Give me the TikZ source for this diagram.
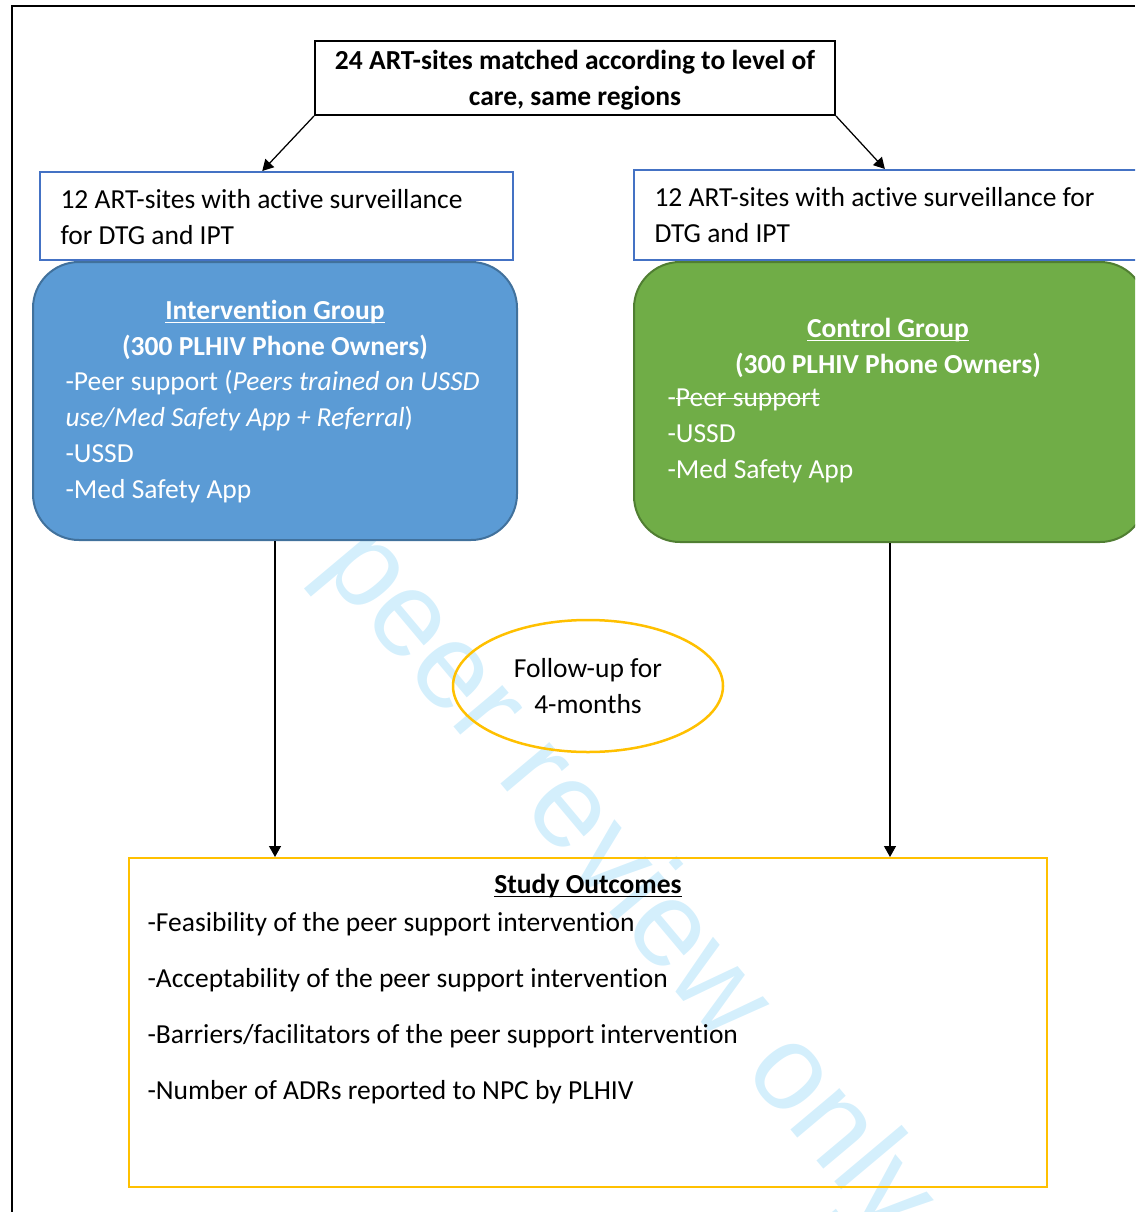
\documentclass[tikz,border=0pt]{standalone}
\usepackage{fontspec}
\setmainfont{Carlito}[Ligatures=NoCommon]
\newfontfamily\wmfont{Liberation Sans}
\usetikzlibrary{arrows.meta, shapes.geometric, fit, calc}

\newsavebox\markbox
\newcommand\strikeout[1]{\sbox\markbox{#1}\rlap{\rule[0.27em]{\wd\markbox}{0.5pt}}\usebox\markbox}
\newcommand\underlined[1]{\sbox\markbox{#1}\rlap{\rule[-0.14em]{\wd\markbox}{0.6pt}}\usebox\markbox}

\definecolor{siteblue}{HTML}{4472C4}
\definecolor{intfill}{HTML}{5B9BD5}
\definecolor{intline}{HTML}{41719C}
\definecolor{ctlfill}{HTML}{70AD47}
\definecolor{ctlline}{HTML}{507E32}
\definecolor{gold}{HTML}{FFC000}
\definecolor{wmcyan}{RGB}{212,239,252}

\begin{document}
\begin{tikzpicture}[x=0.4pt, y=-0.4pt,
  txt/.style={font=\fontsize{11}{14.4}\selectfont, inner sep=0pt, align=left},
  ctxt/.style={txt, align=center},
  boldtxt/.style={font=\bfseries\fontsize{11}{14.4}\selectfont},
  sitebox/.style={draw=siteblue, line width=0.8pt, inner sep=0pt},
  groupbox/.style={rounded corners=18.4pt, line width=0.8pt, inner sep=0pt},
  goldline/.style={draw=gold, line width=0.8pt},
  arr/.style={-{Triangle[length=4.4pt, width=4.8pt]}, line width=0.5pt}]
\clip (0,0) rectangle (1135,1212);
\node[rotate=-50, text=wmcyan, inner sep=0pt, font=\wmfont\fontsize{48.5}{50}\selectfont] (wmark) at (626,884) {peer review only};
\draw[line width=0.8pt] (12,1212) -- (12,6) -- (1135,6);

\node[draw, line width=0.8pt, inner sep=0pt, fit={(315,41) (835,115)}] (sites24) {};
\node[ctxt, boldtxt] (sites24text) at (575,80) {24 ART-sites matched according to level of\\care, same regions};

\node[sitebox, fit={(40,172) (513,260)}] (sitesL) {};
\node[txt, anchor=west] (sitesLtext) at (60,217) {12 ART-sites with active surveillance\\for DTG and IPT};
\node[sitebox, fit={(634,170) (1146,260)}] (sitesR) {};
\node[txt, anchor=west] (sitesRtext) at (654,215) {12 ART-sites with active surveillance for\\DTG and IPT};

\node[groupbox, fill=intfill, draw=intline, fit={(33,262) (517,540)}] (interv) {};
\node[ctxt, boldtxt, text=white] (intervhead) at (275,330) {\underlined{Intervention Group}\\(300 PLHIV Phone Owners)};
\node[txt, text=white, anchor=west] (intervlist) at (65,437) {-Peer support (\textit{Peers trained on USSD}\\\textit{use/Med Safety App + Referral})\\-USSD\\-Med Safety App};

\node[groupbox, fill=ctlfill, draw=ctlline, fit={(634,262) (1146,542)}] (ctrl) {};
\node[ctxt, boldtxt, text=white] (ctrlhead) at (888,348) {\underlined{Control Group}\\(300 PLHIV Phone Owners)};
\node[txt, text=white, anchor=west] (ctrllist) at (667,436) {-\strikeout{Peer support}\\-USSD\\-Med Safety App};

\node[ellipse, goldline, line width=1pt, ctxt, minimum width=108pt, minimum height=52.8pt] (followup) at (588,686) {Follow-up for\\4-months};

\node[goldline, inner sep=0pt, fit={(129,858) (1047,1187)}] (outc) {};
\node[ctxt, boldtxt] (outchead) at (588,886) {\underlined{Study Outcomes}};
\node[txt, anchor=west] (outclist) at (147,1008) {-Feasibility of the peer support intervention\\[8pt]-Acceptability of the peer support intervention\\[8pt]-Barriers/facilitators of the peer support intervention\\[8pt]-Number of ADRs reported to NPC by PLHIV};

\draw[arr] (sites24.south west) -- ($(sitesL.north west)!0.47!(sitesL.north east)$);
\draw[arr] (sites24.south east) -- ($(sitesR.north west)!0.49!(sitesR.north east)$);
\draw[arr] (interv.south) -- (interv.south |- outc.north);
\draw[arr] (ctrl.south) -- (ctrl.south |- outc.north);
\end{tikzpicture}
\end{document}
